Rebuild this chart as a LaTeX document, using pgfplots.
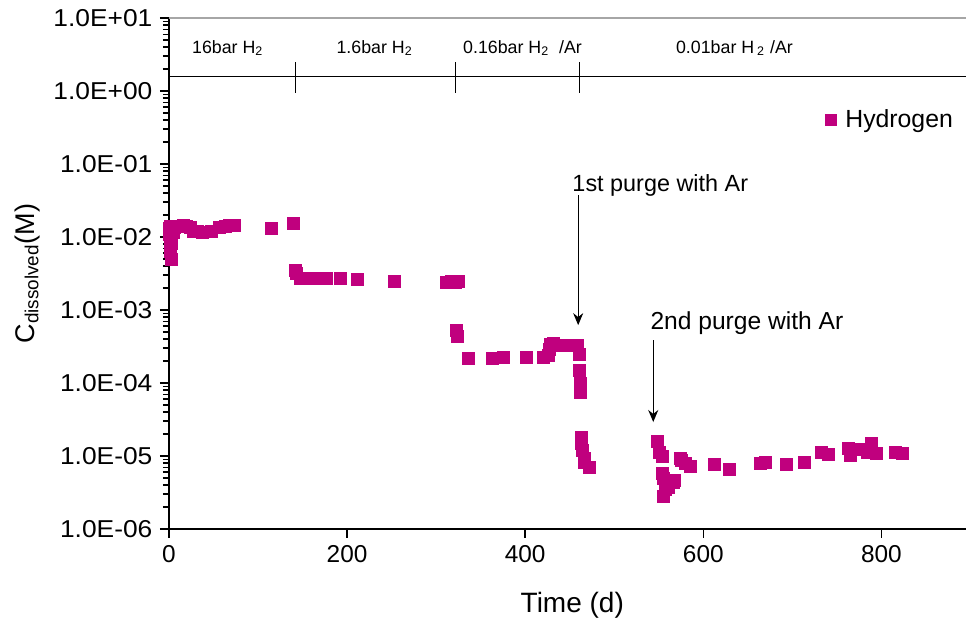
\documentclass[border=0pt]{standalone}
\usepackage{fontspec}
\setmainfont{Liberation Sans}
\usepackage{pgfplots}
\pgfplotsset{compat=1.18}
\usetikzlibrary{arrows.meta}
\definecolor{hyd}{RGB}{192,0,126}
\begin{document}
\begin{tikzpicture}
\useasboundingbox (-84.5pt,-47.5pt) rectangle (398.5pt,264.5pt);
\begin{axis}[
  at={(0pt,0pt)}, anchor=south west,
  scale only axis, width=398.5pt, height=255.5pt,
  ymode=log, log basis y=10,
  xmin=0, xmax=895, ymin=1e-6, ymax=10,
  axis x line*=bottom, axis y line*=left,
  xtick={0,200,400,600,800},
  ytick={1e-6,1e-5,1e-4,1e-3,1e-2,1e-1,1,10},
  yticklabels={1.0E-06,1.0E-05,1.0E-04,1.0E-03,1.0E-02,1.0E-01,1.0E+00,1.0E+01},
  minor ytick={2e-6,3e-6,4e-6,5e-6,6e-6,7e-6,8e-6,9e-6,
               2e-5,3e-5,4e-5,5e-5,6e-5,7e-5,8e-5,9e-5,
               2e-4,3e-4,4e-4,5e-4,6e-4,7e-4,8e-4,9e-4,
               2e-3,3e-3,4e-3,5e-3,6e-3,7e-3,8e-3,9e-3,
               2e-2,3e-2,4e-2,5e-2,6e-2,7e-2,8e-2,9e-2,
               2e-1,3e-1,4e-1,5e-1,6e-1,7e-1,8e-1,9e-1,
               2,3,4,5,6,7,8,9},
  tick align=outside, major tick length=4.5pt, minor tick length=3pt,
  tick style={black, line width=0.7pt},
  axis line style={black, line width=0.6pt},
  ticklabel style={font=\fontsize{12.2}{14}\selectfont},
  yticklabel style={xscale=1.08},
  /pgf/number format/assume math mode=true,
  xlabel={Time (d)},
  xlabel style={font=\fontsize{14}{16}\selectfont, at={(axis description cs:0.506,-0.149)}, anchor=center},
  ylabel={C\textsubscript{dissolved}(M)},
  ylabel style={font=\fontsize{13.5}{16}\selectfont, at={(axis description cs:-0.178,0.5)}, anchor=center, rotate=0},
  clip=false,
  legend style={draw=none, fill=none, at={(rel axis cs:0.815,0.80)}, anchor=west, font=\fontsize{12.4}{14}\selectfont},
  legend image code/.code={\fill[hyd] (-2.8pt,-2.8pt) rectangle (2.8pt,2.8pt); \path (5pt,0pt);},
]
\addplot[only marks, mark=square*, mark size=3pt, color=hyd, mark options={draw=hyd, fill=hyd}] coordinates {
(1,1.3e-2)(1,1.1e-2)(1.5,9e-3)(2,7.5e-3)(2,6.3e-3)(2.5,5e-3)(3,8.3e-3)(4.5,1.15e-2)(1.5,1.4e-2)
(6,1.35e-2)(9,1.4e-2)(12,1.4e-2)(16,1.45e-2)(20,1.38e-2)(24,1.34e-2)(27,1.2e-2)(32,1.2e-2)
(37,1.15e-2)(48,1.2e-2)(57,1.36e-2)(63,1.4e-2)(68,1.45e-2)(74,1.45e-2)
(115,1.33e-2)(140,1.55e-2)
(141.6,3.5e-3)(143,3.2e-3)(147,2.74e-3)(155,2.7e-3)(160,2.75e-3)(166,2.7e-3)(172,2.7e-3)(177,2.7e-3)
(192,2.7e-3)(212,2.6e-3)(253,2.5e-3)(312,2.4e-3)(317,2.45e-3)(322,2.4e-3)(325,2.45e-3)
(323,5.2e-4)(324,4.3e-4)(336,2.2e-4)(363,2.2e-4)(376,2.27e-4)(401,2.25e-4)(420,2.25e-4)
(426,2.4e-4)(427,2.9e-4)(428,3.4e-4)(432,3.5e-4)(437,3.3e-4)(443,3.3e-4)(450,3.3e-4)(459,3.3e-4)
(461,2.5e-4)(461,1.5e-4)(462,1e-4)(462,7.5e-5)(463,1.8e-5)(463,1.5e-5)(464,1.2e-5)
(467,9.4e-6)(467,8.3e-6)(472,6.9e-6)
(548,1.6e-5)(551,1.13e-5)(554,1e-5)(554,5.8e-6)(555,4.9e-6)(555,2.8e-6)(558,3.5e-6)(561,3.7e-6)
(566,4.4e-6)(568,4.6e-6)(574,9.4e-6)(575,8.7e-6)(580,7.8e-6)(585,7.3e-6)
(613,7.6e-6)(629,6.6e-6)(664,7.9e-6)(670,8.1e-6)(693,7.6e-6)(713,8.2e-6)
(733,1.13e-5)(740,1.06e-5)(763,1.29e-5)(765,1.03e-5)(774,1.25e-5)(784,1.13e-5)(789,1.5e-5)
(794,1.1e-5)(816,1.13e-5)(824,1.1e-5)
};
\addlegendentry{Hydrogen}
% top border and phase bar
\draw[gray!70, line width=0.6pt] (rel axis cs:0,1) -- (rel axis cs:1,1);
\draw[black, line width=0.5pt] (axis cs:0,1.6) -- (axis cs:895,1.6);
\draw[black, line width=0.5pt] (axis cs:141.6,0.94) -- (axis cs:141.6,2.52);
\draw[black, line width=0.5pt] (axis cs:321.7,0.94) -- (axis cs:321.7,2.52);
\draw[black, line width=0.5pt] (axis cs:461,0.94) -- (axis cs:461,2.52);
\node[font=\fontsize{8.9}{10}\selectfont] at (axis cs:66,3.88) {16bar H\textsubscript{2}};
\node[font=\fontsize{8.9}{10}\selectfont] at (axis cs:231,3.88) {1.6bar H\textsubscript{2}};
\node[font=\fontsize{8.9}{10}\selectfont] at (axis cs:397,3.88) {0.16bar H\textsubscript{2}\ \ /Ar};
\node[font=\fontsize{8.9}{10}\selectfont] at (axis cs:635,3.88) {0.01bar H\,\textsubscript{2} /Ar};
% arrows
\draw[-{Stealth[length=6pt,width=5pt]}, line width=0.6pt] (axis cs:459.5,0.0376) -- (axis cs:459.5,6.2e-4);
\draw[-{Stealth[length=6pt,width=5pt]}, line width=0.6pt] (axis cs:543.8,3.88e-4) -- (axis cs:543.8,2.92e-5);
\node[font=\fontsize{11.7}{13}\selectfont] at (axis cs:551.7,0.0515) {1st purge with Ar};
\node[font=\fontsize{12.3}{14}\selectfont] at (axis cs:649,6.6e-4) {2nd purge with Ar};
\end{axis}
\end{tikzpicture}
\end{document}
